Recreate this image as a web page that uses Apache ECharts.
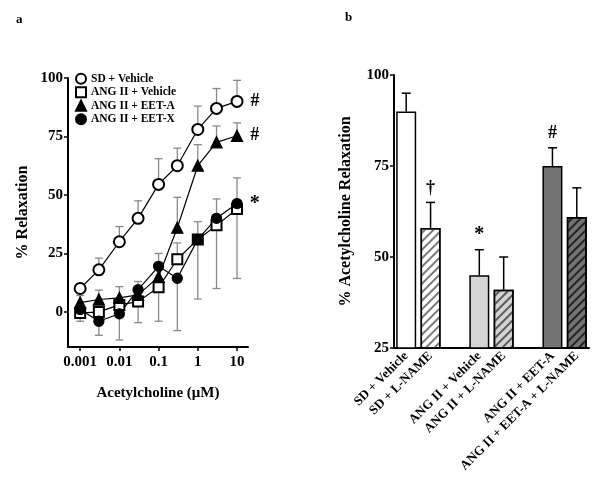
<!DOCTYPE html>
<html><head><meta charset="utf-8">
<script src="https://cdn.jsdelivr.net/npm/echarts@6/dist/echarts.min.js"></script>
<style>html,body{margin:0;padding:0;background:#fff}#c{width:604px;height:492px}</style>
</head><body><div id="c"></div>
<script>
// ---------- Panel a data ----------
const concentrations = [0.001, 0.003, 0.01, 0.03, 0.1, 0.3, 1, 3, 10];
const xTickValues = [0.001, 0.01, 0.1, 1, 10];
const xTickLabels = ['0.001', '0.01', '0.1', '1', '10'];
const yTicksA = [0, 25, 50, 75, 100];

const sdVehicle        = [10, 18, 30, 40, 54.5, 62.5, 78, 87, 90];
const sdVehicleErrUp   = [2, 5, 6.5, 7.5, 11, 7.5, 10, 8.5, 9];
const angVehicle       = [-0.5, 0, 3, 4.4, 10.5, 22.5, 31, 37, 44];
const angVehicleErrUp  = [0, 0, 0, 0, 0, 7, 7.6, 0, 0];
const angVehicleErrDn  = [3.5, 0, 0, 9, 14.5, 0, 0, 0, 0];
const angEetA          = [4, 5.3, 6, 7.3, 15, 36, 62.5, 72.5, 75.3];
const angEetAErrUp     = [3, 4, 4.8, 5.7, 10, 13, 9, 7, 5.5];
const angEetX          = [1, -4, -0.8, 9.5, 19.5, 14.4, 31, 40, 46.3];
const angEetXErrUp     = [0, 0, 0, 0, 0, 0, 0, 8.3, 11];
const angEetXErrDn     = [0, 6, 11.2, 0, 0, 22.4, 25.5, 30, 32];

// ---------- Panel b data ----------
const barCategories = ['SD + Vehicle', 'SD + L-NAME', 'ANG II + Vehicle', 'ANG II + L-NAME', 'ANG II + EET-A', 'ANG II + EET-A + L-NAME'];
const barValues = [90, 58, 45, 41, 75, 61];
const barErrUp  = [5, 7, 7, 9, 5, 8];
const barMarks  = ['', '†', '*', '', '#', ''];
const yTicksB = [25, 50, 75, 100];

const FONT = '"Liberation Serif", "DejaVu Serif", serif';
const chart = echarts.init(document.getElementById('c'), null, {renderer: 'canvas'});

const lx = concentrations.map(c => Math.log10(c));

function errData(vals, up, dn) {
  return vals.map((v, i) => [lx[i], v, up ? up[i] : 0, dn ? dn[i] : 0]);
}
function errRender(capHalf, color, width) {
  return function (params, api) {
    const x = api.value(0), y = api.value(1), up = api.value(2), dn = api.value(3);
    const p = api.coord([x, y]);
    const ch = [];
    const st = {stroke: color, lineWidth: width};
    if (up > 0) {
      const t = api.coord([x, y + up]);
      ch.push({type: 'line', shape: {x1: p[0], y1: p[1], x2: t[0], y2: t[1]}, style: st});
      ch.push({type: 'line', shape: {x1: t[0] - capHalf, y1: t[1], x2: t[0] + capHalf, y2: t[1]}, style: st});
    }
    if (dn > 0) {
      const b = api.coord([x, y - dn]);
      ch.push({type: 'line', shape: {x1: p[0], y1: p[1], x2: b[0], y2: b[1]}, style: st});
      ch.push({type: 'line', shape: {x1: b[0] - capHalf, y1: b[1], x2: b[0] + capHalf, y2: b[1]}, style: st});
    }
    return {type: 'group', children: ch};
  };
}
function lineData(vals, mark) {
  return vals.map((v, i) => {
    const d = {value: [lx[i], v]};
    if (mark && i === vals.length - 1) {
      d.label = {show: true, position: 'right', distance: 7, formatter: mark,
        fontFamily: FONT, fontWeight: 'bold', fontSize: mark === '*' ? 20 : 18, color: '#000'};
    }
    return d;
  });
}
function lineSeries(name, vals, symbol, size, mark) {
  return {
    type: 'line', name: name, xAxisIndex: 0, yAxisIndex: 0,
    data: lineData(vals, mark), symbol: symbol, symbolSize: size,
    lineStyle: {color: '#000', width: 1.2}, itemStyle: {color: '#000', borderColor: '#000', borderWidth: 1.3},
    z: 5, animation: false, showAllSymbol: true
  };
}
function errSeries(data) {
  return {type: 'custom', xAxisIndex: 0, yAxisIndex: 0, data: data,
    renderItem: errRender(4, '#8a8a8a', 1.3), z: 2, animation: false, silent: true};
}

// bar panel
const barAxisCats = [barCategories[0], barCategories[1], ' ', barCategories[2], barCategories[3], '  ', barCategories[4], barCategories[5]];
const hatch = (c) => ({symbol: 'rect', symbolSize: 1, rotation: -Math.PI / 4, dashArrayX: [1, 0], dashArrayY: [1.3, 3.2], color: c});
const barStyles = [
  {color: '#ffffff'},
  {color: '#ffffff', decal: hatch('#7a7a7a')},
  {color: '#d4d4d4'},
  {color: '#d4d4d4', decal: hatch('#5a5a5a')},
  {color: '#737373'},
  {color: '#737373', decal: hatch('#222222')}
];
const barIdx = [0, 1, 3, 4, 6, 7];
const barData = barAxisCats.map(() => null);
const barErrData = [];
barValues.forEach((v, i) => {
  barData[barIdx[i]] = {value: v, itemStyle: Object.assign({borderColor: '#000', borderWidth: 1.5}, barStyles[i])};
  barErrData.push([barIdx[i], v, barErrUp[i], barMarks[i]]);
});

const axisTxt = {fontFamily: FONT, fontWeight: 'bold', color: '#000'};
const axLine = {show: true, onZero: false, lineStyle: {color: '#000', width: 2}};

const option = {
  backgroundColor: '#fff',
  animation: false,
  title: [
    {text: 'a', left: 11, top: 8, textStyle: Object.assign({fontSize: 13}, axisTxt)},
    {text: 'b', left: 340, top: 6, textStyle: Object.assign({fontSize: 13}, axisTxt)}
  ],
  legend: {
    orient: 'vertical', left: 75, top: 72, itemGap: 0, itemWidth: 10, itemHeight: 10,
    padding: 0, selectedMode: false,
    textStyle: {fontFamily: FONT, fontWeight: 'bold', fontSize: 11.5, color: '#000', lineHeight: 13.5, padding: [0, 0, 0, 0]},
    data: [
      {name: 'SD + Vehicle', icon: 'emptyCircle'},
      {name: 'ANG II + Vehicle', icon: 'emptyRect'},
      {name: 'ANG II + EET-A', icon: 'triangle'},
      {name: 'ANG II + EET-X', icon: 'circle'}
    ]
  },
  grid: [
    {left: 68, top: 78, width: 180, height: 269},
    {left: 394, top: 75, width: 195, height: 273}
  ],
  xAxis: [
    {
      type: 'value', gridIndex: 0, min: -3.31, max: 1.28,
      name: 'Acetylcholine (\u03bcM)', nameLocation: 'middle', nameGap: 39,
      nameTextStyle: Object.assign({fontSize: 15}, axisTxt),
      axisLine: axLine,
      axisTick: {show: true, length: 4, lineStyle: {color: '#000', width: 1.5}, customValues: xTickValues.map(v => Math.log10(v))},
      axisLabel: Object.assign({fontSize: 15, margin: 8, customValues: xTickValues.map(v => Math.log10(v)),
        formatter: (v) => xTickLabels[xTickValues.findIndex(t => Math.abs(Math.log10(t) - v) < 1e-6)]}, axisTxt),
      splitLine: {show: false}
    },
    {
      type: 'category', gridIndex: 1, data: barAxisCats,
      axisLine: axLine,
      axisTick: {show: false},
      axisLabel: Object.assign({fontSize: 13, rotate: 45, interval: 0, margin: 6}, axisTxt),
      splitLine: {show: false}
    }
  ],
  yAxis: [
    {
      type: 'value', gridIndex: 0, min: -15, max: 100,
      name: '% Relaxation', nameLocation: 'middle', nameGap: 37,
      nameTextStyle: Object.assign({fontSize: 16}, axisTxt),
      axisLine: axLine,
      axisTick: {show: true, length: 4, lineStyle: {color: '#000', width: 1.5}, customValues: yTicksA},
      axisLabel: Object.assign({fontSize: 15, margin: 5, customValues: yTicksA}, axisTxt),
      splitLine: {show: false}
    },
    {
      type: 'value', gridIndex: 1, min: 25, max: 100, interval: 25,
      name: '% Acetylcholine Relaxation', nameLocation: 'middle', nameGap: 40,
      nameTextStyle: Object.assign({fontSize: 16}, axisTxt),
      axisLine: axLine,
      axisTick: {show: true, length: 4, lineStyle: {color: '#000', width: 1.5}},
      axisLabel: Object.assign({fontSize: 15, margin: 5, customValues: yTicksB}, axisTxt),
      splitLine: {show: false}
    }
  ],
  series: [
    errSeries(errData(sdVehicle, sdVehicleErrUp, null)),
    errSeries(errData(angVehicle, angVehicleErrUp, angVehicleErrDn)),
    errSeries(errData(angEetA, angEetAErrUp, null)),
    errSeries(errData(angEetX, angEetXErrUp, angEetXErrDn)),
    lineSeries('SD + Vehicle', sdVehicle, 'emptyCircle', 11, '#'),
    lineSeries('ANG II + Vehicle', angVehicle, 'emptyRect', 10, null),
    lineSeries('ANG II + EET-A', angEetA, 'triangle', 11, '#'),
    lineSeries('ANG II + EET-X', angEetX, 'circle', 10, '*'),
    {
      type: 'bar', xAxisIndex: 1, yAxisIndex: 1, data: barData, barWidth: 20, z: 3, animation: false
    },
    {
      type: 'custom', xAxisIndex: 1, yAxisIndex: 1, data: barErrData, z: 4, animation: false, silent: true,
      renderItem: function (params, api) {
        const x = api.value(0), y = api.value(1), up = api.value(2);
        const mark = barErrData[params.dataIndex][3];
        const p = api.coord([x, y]);
        const t = api.coord([x, y + up]);
        const st = {stroke: '#000', lineWidth: 1.5};
        const ch = [
          {type: 'line', shape: {x1: p[0], y1: p[1], x2: t[0], y2: t[1]}, style: st},
          {type: 'line', shape: {x1: t[0] - 4.5, y1: t[1], x2: t[0] + 4.5, y2: t[1]}, style: st}
        ];
        if (mark) {
          ch.push({type: 'text', x: t[0], y: t[1] - 5, style: {text: mark, align: 'center', verticalAlign: 'bottom',
            fontFamily: FONT, fontWeight: 'bold', fontSize: mark === '*' ? 20 : 18, fill: '#000'}});
        }
        return {type: 'group', children: ch};
      }
    }
  ]
};
chart.setOption(option);
</script>
</body></html>
